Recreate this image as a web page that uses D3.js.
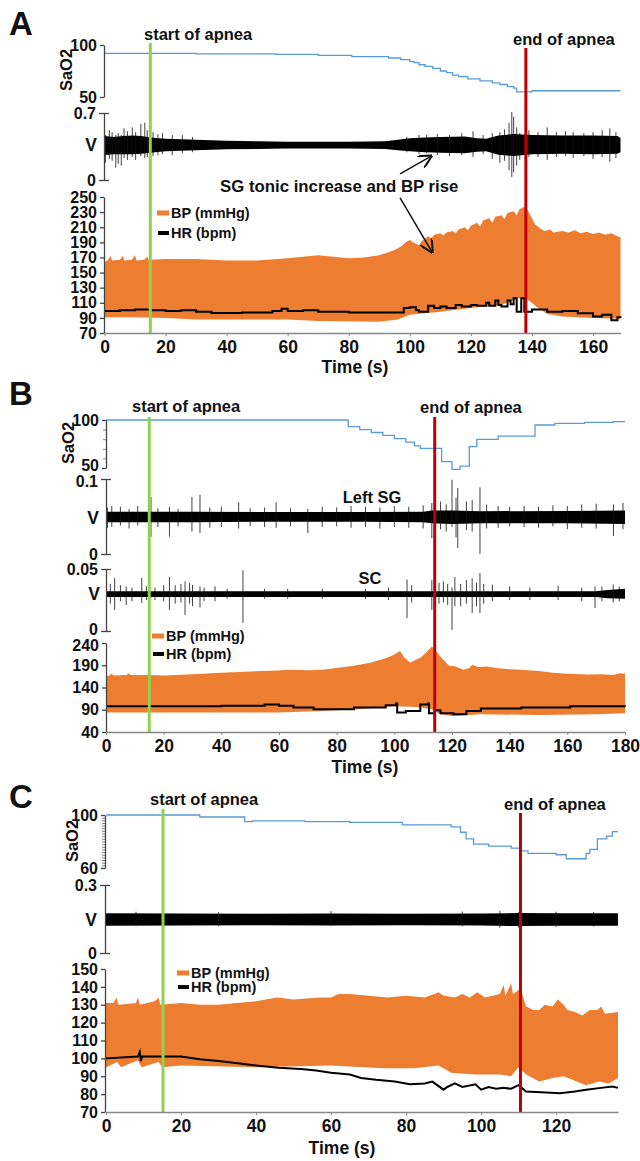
<!DOCTYPE html>
<html>
<head>
<meta charset="utf-8">
<script src="https://cdn.jsdelivr.net/npm/d3@7"></script>
<style>
  body { margin: 0; background: #fff; }
</style>
</head>
<body>
<div id="fig"></div>
<script>
// ---------- data ----------
// events: start / end of apnea (s)
const aEvents = [15, 138];
const bEvents = [15, 114];
const cEvents = [15.2, 110.5];

const aTicksX = [0, 20, 40, 60, 80, 100, 120, 140, 160];
const aTicksS = [50, 100];
const aTicksV = [0, 0.7];
const aTicksBP = [70, 90, 110, 130, 150, 170, 190, 210, 230, 250];

const bTicksX = [0, 20, 40, 60, 80, 100, 120, 140, 160, 180];
const bTicksS = [50, 100];
const bMinorS = [60, 70, 80, 90];
const bTicksV1 = [0, 0.1];
const bTicksV2 = [0, 0.05];
const bTicksBP = [40, 90, 140, 190, 240];

const cTicksX = [0, 20, 40, 60, 80, 100, 120];
const cTicksS = [60, 100];
const cMinorS = [62, 64, 66, 68, 70, 72, 74, 76, 78, 80, 82, 84, 86, 88, 90, 92, 94, 96, 98];
const cTicksV = [0, 0.3];
const cTicksBP = [70, 80, 90, 100, 110, 120, 130, 140, 150];

// SaO2 (%) step points [t, value]
const aSaO2 = [[0,92],[30,91.5],[56,91],[70,90],[81,88.8],[93,87.5],[97,86],[100,84],[101.5,83],[103,81],[105,79.5],[107.5,77.5],[110,75],[112,73.5],[114,71],[116,69.5],[119,67.5],[123,65.5],[127,63.5],[129.5,62],[132,60],[134,58.5],[135,55],[140,56],[169,56]];
const bSaO2 = [[0,100],[84,93],[88,90],[92,87],[96,84],[100,80.5],[104,77],[107,73],[109,70.5],[116.4,56.6],[120,48.6],[122.8,52],[126,72.2],[128.6,79.9],[136,83.3],[148.8,94.8],[155.7,96.5],[166,97.6],[176,98.3],[180,98.3]];
const cSaO2 = [[0,100],[25,98.5],[37,95],[39,95.5],[53,95],[65,94.5],[79,92.5],[92,91],[94.5,87],[96,82],[98,78],[102,76.5],[108,75],[110.5,73],[112.5,71],[120,70],[122.7,67],[128,71],[129,74],[131,82],[133.5,84],[135,87.5],[136.5,87.5]];

// nerve activity: dense body [t, hi, lo] (V) and single spikes [t, hi, lo]
const aVBody = [[0,0.46,0.26],[3,0.45,0.27],[6,0.46,0.27],[9,0.465,0.27],[12,0.46,0.275],[15,0.445,0.285],[20,0.43,0.30],[25,0.425,0.305],[30,0.42,0.31],[40,0.41,0.32],[50,0.405,0.325],[60,0.40,0.33],[80,0.40,0.33],[92,0.405,0.325],[96,0.42,0.31],[100,0.435,0.30],[105,0.445,0.29],[110,0.45,0.285],[118,0.455,0.28],[122,0.435,0.295],[125,0.43,0.30],[129,0.465,0.265],[134,0.48,0.25],[140,0.47,0.27],[150,0.465,0.275],[160,0.465,0.27],[168,0.46,0.275],[169,0.44,0.29]];
const aVSpikes = [[0.3,0.47,0.18],[1.6,0.52,0.22],[2.5,0.50,0.20],[3.7,0.47,0.13],[4.5,0.49,0.17],[5.5,0.47,0.15],[6.4,0.54,0.23],[7.5,0.51,0.21],[9.1,0.55,0.24],[10.2,0.50,0.21],[11.9,0.585,0.25],[13.2,0.60,0.23],[14,0.52,0.24],[15.9,0.50,0.25],[17.5,0.48,0.26],[19,0.49,0.27],[22.2,0.47,0.26],[25.5,0.47,0.28],[28.8,0.45,0.29],
  [99,0.45,0.29],[103,0.47,0.27],[105.5,0.47,0.28],[109,0.48,0.26],[113,0.47,0.25],[117,0.49,0.26],[120.7,0.51,0.24],[124,0.47,0.27],[127,0.49,0.22],[129.5,0.50,0.18],[131,0.53,0.20],[132.5,0.60,0.10],[133.4,0.71,0.03],[134,0.66,0.08],[135,0.55,0.15],[136,0.49,0.21],[139,0.52,0.24],[142,0.50,0.24],[145,0.55,0.21],[148,0.50,0.24],[151,0.51,0.25],[153.5,0.50,0.23],[157,0.49,0.25],[160,0.50,0.22],[163,0.52,0.24],[165.5,0.54,0.19],[167.5,0.50,0.23]];

const bV1Body = [[0,0.0565,0.0425],[30,0.0565,0.0425],[60,0.056,0.043],[90,0.056,0.043],[110,0.0565,0.0425],[113,0.058,0.041],[120,0.058,0.040],[130,0.057,0.041],[160,0.0575,0.041],[180,0.058,0.040]];
const bV1Spikes = [[0.5,0.062,0.035],[2,0.064,0.036],[5,0.063,0.038],[8,0.060,0.034],[11,0.064,0.038],[15.6,0.076,0.023],[18,0.061,0.036],[22,0.063,0.023],[25,0.060,0.037],[29.8,0.076,0.030],[32.6,0.079,0.028],[36,0.062,0.035],[40,0.063,0.036],[46,0.069,0.034],[50,0.061,0.037],[55,0.062,0.036],[59,0.069,0.035],[64,0.061,0.037],[70,0.060,0.028],[75,0.063,0.036],[80,0.062,0.037],[85,0.064,0.035],[90,0.063,0.036],[95,0.062,0.034],[100,0.064,0.036],[105,0.063,0.035],[110,0.065,0.034],[113,0.068,0.021],[116,0.070,0.033],[118,0.066,0.030],[120,0.099,0.036],[121.4,0.075,0.022],[122,0.088,0.008],[125,0.070,0.032],[127,0.072,0.030],[129.7,0.089,0.000],[132,0.066,0.034],[136,0.064,0.035],[140,0.063,0.037],[145,0.064,0.036],[150,0.063,0.035],[155,0.065,0.037],[160,0.064,0.033],[165,0.066,0.035],[170,0.067,0.034],[176,0.066,0.024],[179.3,0.068,0.033]];

const bV2Body = [[0,0.032,0.0275],[170,0.032,0.0275],[174,0.033,0.0265],[180,0.034,0.026]];
const bV2Spikes = [[1.5,0.038,0.022],[3,0.0427,0.017],[5,0.037,0.024],[7,0.036,0.021],[9,0.035,0.024],[12.4,0.0427,0.0226],[14,0.036,0.025],[17,0.035,0.025],[20,0.037,0.024],[22,0.0435,0.017],[24,0.037,0.022],[26,0.038,0.023],[27.4,0.040,0.013],[29,0.039,0.022],[30,0.037,0.020],[32.6,0.036,0.019],[34,0.035,0.024],[37.8,0.036,0.024],[42,0.034,0.026],[47.5,0.049,0.0065],[55,0.034,0.026],[63,0.034,0.026],[75,0.034,0.026],[90,0.034,0.026],[98,0.035,0.025],[104.4,0.0415,0.0105],[106,0.037,0.023],[113,0.041,0.017],[115.5,0.039,0.022],[117,0.040,0.023],[118.5,0.038,0.021],[120,0.035,0.001],[121,0.0435,0.020],[123,0.038,0.020],[125,0.041,0.022],[127,0.0425,0.0145],[128.5,0.039,0.020],[129.7,0.0468,0.0145],[131,0.038,0.022],[134,0.0375,0.024],[140,0.036,0.025],[147,0.035,0.025],[156.8,0.0365,0.025],[165,0.035,0.024],[169.6,0.036,0.0185],[172,0.036,0.024],[175.9,0.0375,0.023],[178,0.036,0.024]];

const cVBody = [[0,0.175,0.12],[20,0.174,0.121],[40,0.173,0.122],[60,0.174,0.121],[80,0.173,0.122],[100,0.174,0.121],[110,0.176,0.119],[120,0.175,0.12],[136.5,0.175,0.12]];
const cVSpikes = [[8,0.182,0.12],[30,0.18,0.118],[60,0.185,0.12],[95,0.183,0.118],[105,0.186,0.112],[110,0.18,0.112],[120,0.182,0.115],[130,0.181,0.117]];

// blood pressure envelope (mmHg): systolic top and diastolic bottom [t, value]
const aBPTop = [[0,164],[1,166],[2,172],[2.5,166],[5,167],[6,172],[6.5,166],[9,167],[10,173],[10.5,166],[13,167],[14,171],[14.5,167],[20,168],[30,168],[40,166],[50,166],[60,169],[65,171],[70,173],[75,171],[80,169],[85,170],[90,173],[93,177],[95,180],[97,184],[99,191],[100,193],[101,190],[103,186],[104,192],[106,198],[107,195],[108,200],[110,202],[111,199],[112,203],[114,205],[115,202],[116,207],[118,210],[119,206],[120,212],[122,216],[123,211],[124,219],[126,222],[127,216],[128,224],[130,226],[131,221],[132,229],[134,231],[135,226],[136,234],[137.5,237],[138.5,233],[139.5,226],[141,214],[142.5,209],[144,205],[146,207],[147,203],[150,205],[152,203],[154,206],[156,202],[158,204],[160,201],[162,203],[164,200],[166,202],[168,198],[169,197]];
const aBPBottom = [[0,91],[10,91],[20,90],[30,88],[50,88],[60,88],[70,86],[90,85],[96,88],[100,94],[110,98],[120,103],[130,107],[133,112],[135,116],[138,116],[140,110],[142,103],[145,95],[150,92],[160,90],[169,89]];
const bBPTop = [[0,165],[1.5,168],[2,172],[2.5,167],[7,168],[8,172],[8.5,168],[15,168],[20,167],[30,170],[40,173],[50,176],[60,178],[63,180],[70,179],[75,180],[80,184],[86,189],[92,196],[97.5,207],[100,214],[102,222],[103.5,207],[105.5,196],[109,207],[111,218],[113,232],[114,226],[116,209],[119,189],[121,188],[124,180],[126,184],[127,191],[129,186],[132,187],[136,183],[140,181],[144,180],[150,177],[155,173],[160,171],[167,169],[172,170],[176,168],[178,172],[180,171]];
const bBPBottom = [[0,84],[20,84],[40,84],[60,84],[75,87],[90,92],[100,98],[108,96],[113,91],[116,80],[120,76],[130,80],[150,78],[170,80],[180,82]];
const cBPTop = [[0,131],[2,131],[2.8,134],[3.3,130],[8,131],[8.5,134],[9,130],[13,132],[14,134],[14.5,130],[20,131],[25,130],[30,130],[35,131],[40,132],[45.6,134],[50,133],[57,134],[60,134],[62,136],[65,136],[70,135],[75,134],[80,135],[85,134],[88.7,137],[90,135],[93,134],[95,136],[97,134],[99,137],[101,134],[103,135],[105,136],[106,141],[106.5,135],[108,142],[108.5,136],[110.5,139],[112,129],[114,127],[115.5,127],[117,130],[119,129],[120.5,133],[122,130],[123,127],[125,126],[127,124],[129,127],[131,127],[132,129],[133,125],[136.5,126]];
const cBPBottom = [[0,95],[3,98],[4,95],[8.5,99],[9.5,95],[14,98],[15,95],[20,96],[40,95],[60,96],[74,94.5],[82,94.5],[88.7,96],[92,92],[98.5,91],[105,91],[108,90],[110,95],[112,91],[115.5,87],[119,89],[122,90],[128,85],[131.5,87],[134,86],[136.5,89]];

// heart rate (bpm)
const aHR = [[0,99],[5,100],[10,101],[15,100],[20,99],[25,100],[30,98],[35,96.5],[45,97],[55,99],[58,102],[60,99],[65,100],[70,98],[80,97],[95,97],[98,103],[100,104],[102,100],[103,98],[106,106],[108,103],[110,105],[112,103],[115,107],[117,105],[120,107],[122,106],[125,110],[126,106],[128,113],[129,107],[130,105],[132,113],[133,108],[134,116],[135,98],[136.5,116],[137.5,98],[140,101],[145,98],[150,99],[155,96],[160,92],[163,94],[166,87],[168,91],[169,90]];
const bHR = [[0,98],[20,98],[40,99],[55,102],[60,99],[65,95],[72,91],[76,91],[86,95],[97,100],[100.6,104],[101,84],[104,87],[109,102],[111.7,104],[112,82],[114,89],[116,82],[120.5,80],[125,87],[130,93],[144,95],[161,98],[178,98],[180,97]];
const cHR = [[0,100],[8.5,101],[9,103.5],[9.3,98.5],[9.6,101],[15,101],[20,101],[25,99.5],[30,98.5],[34,97.5],[40,96],[46,94.7],[52,94],[56,93.2],[60,92],[65,91],[68,89],[72,88],[77,87],[81,85.5],[85,86],[87,87],[90,82.5],[91,84],[93,86],[95,84],[98.5,85.5],[100,82.5],[102,84],[104,83],[106,83.5],[108,83],[110,85],[112,81.5],[116,81],[121,80.5],[125,81.5],[128,82.5],[132,83.5],[135,84.2],[136.5,83.5]];

// ---------- drawing ----------
const W = 640, H = 1161;
const FONT = '"Liberation Sans", Arial, Helvetica, sans-serif';
const ORANGE = "#ed7d31", BLUE = "#5b9bd5", GREEN = "#92d050", RED = "#c00000";

const svg = d3.select("#fig").append("svg").attr("width", W).attr("height", H);

function txt(g, x, y, s, size, anchor) {
    return g.append("text").attr("x", x).attr("y", y).text(s)
        .attr("font-family", FONT).attr("font-weight", "bold")
        .attr("font-size", size).attr("text-anchor", anchor || "start").attr("fill", "#111");
}

function stepLine(g, x, y, data, color, w, curve) {
    g.append("path").datum(data)
        .attr("d", d3.line().x(d => x(d[0])).y(d => y(d[1])).curve(curve || d3.curveStepAfter))
        .attr("fill", "none").attr("stroke", color).attr("stroke-width", w);
}

function band(g, x, y, top, bottom, color) {
    const pts = top.map(d => [x(d[0]), y(d[1])])
        .concat(bottom.slice().reverse().map(d => [x(d[0]), y(d[1])]));
    g.append("path").attr("d", d3.line()(pts) + "Z").attr("fill", color);
}

function trace(g, x, y, body, spikes) {
    g.append("path").datum(body)
        .attr("d", d3.area().x(d => x(d[0])).y0(d => y(d[2])).y1(d => y(d[1])))
        .attr("fill", "#000");
    g.selectAll(null).data(spikes).enter().append("line")
        .attr("x1", d => x(d[0])).attr("x2", d => x(d[0]))
        .attr("y1", d => y(d[1])).attr("y2", d => y(d[2]))
        .attr("stroke", "#111").attr("stroke-width", 0.8);
}

// nudge: {tickValue: px} shifts single tick labels so neighbouring axes don't collide
function yAxis(g, scale, ticks, x0, size, fmt, cross, nudge) {
    const ax = g.append("g").attr("transform", `translate(${x0},0)`)
        .call(d3.axisLeft(scale).tickValues(ticks).tickSize(size).tickSizeOuter(0).tickPadding(3)
            .tickFormat(fmt || (d => d)));
    ax.select(".domain").attr("stroke", "#444").attr("stroke-width", 1.3);
    ax.selectAll(".tick line").attr("stroke", "#444").attr("stroke-width", 1.3);
    if (cross) ax.selectAll(".tick line").attr("x2", cross).attr("x1", -cross);
    ax.selectAll(".tick text").attr("font-family", FONT).attr("font-weight", "bold")
        .attr("font-size", 16).attr("fill", "#111");
    if (nudge) ax.selectAll(".tick text").attr("transform", d => `translate(0,${nudge[d] || 0})`);
    return ax;
}

function minorTicks(g, scale, ticks, x0) {
    g.append("g").attr("transform", `translate(${x0},0)`)
        .call(d3.axisLeft(scale).tickValues(ticks).tickSize(3).tickSizeOuter(0).tickFormat(""))
        .call(a => a.select(".domain").remove())
        .selectAll(".tick line").attr("stroke", "#666").attr("stroke-width", 0.8);
}

function xAxis(g, scale, ticks, y0) {
    const ax = g.append("g").attr("transform", `translate(0,${y0})`)
        .call(d3.axisBottom(scale).tickValues(ticks).tickSize(3).tickSizeOuter(0).tickPadding(5));
    ax.select(".domain").attr("stroke", "#888").attr("stroke-width", 1.5);
    ax.selectAll(".tick line").attr("stroke", "#888");
    ax.selectAll(".tick text").attr("font-family", FONT).attr("font-weight", "bold")
        .attr("font-size", 17.5).attr("fill", "#111");
}

function eventLine(g, x, t, y0, y1, color) {
    g.append("line").attr("x1", x(t)).attr("x2", x(t)).attr("y1", y0).attr("y2", y1)
        .attr("stroke", color).attr("stroke-width", 3);
}

function legend(g, x0, y0, gap) {
    g.append("rect").attr("x", x0).attr("y", y0 - 2.5).attr("width", 12).attr("height", 5).attr("fill", ORANGE);
    txt(g, x0 + 14, y0 + 5, "BP (mmHg)", 14.5);
    g.append("rect").attr("x", x0 + 1).attr("y", y0 + gap - 2).attr("width", 11).attr("height", 4).attr("fill", "#000");
    txt(g, x0 + 14, y0 + gap + 5, "HR (bpm)", 14.5);
}

function rotLabel(g, x, y, s) {
    txt(g, 0, 0, s, 16.5, "middle").attr("transform", `translate(${x},${y}) rotate(-90)`);
}

const vFmt = d => d === 0 ? "0" : String(d);

// ----- panel A -----
const gA = svg.append("g");
const xA = d3.scaleLinear().domain([0, 169]).range([104.5, 620.5]);
const sA = d3.scaleLinear().domain([50, 100]).range([97, 45]);
const vA = d3.scaleLinear().domain([0, 0.7]).range([180, 113]);
const bA = d3.scaleLinear().domain([70, 250]).range([333, 197]);

stepLine(gA, xA, sA, aSaO2, BLUE, 1.3);
trace(gA, xA, vA, aVBody, aVSpikes);
band(gA, xA, bA, aBPTop, aBPBottom, ORANGE);
stepLine(gA, xA, bA, aHR, "#000", 2);
eventLine(gA, xA, aEvents[0], 43, 333, GREEN);
eventLine(gA, xA, aEvents[1], 48, 333, RED);
yAxis(gA, sA, aTicksS, 104, 4);
yAxis(gA, vA, aTicksV, 104, 5, vFmt, 5);
yAxis(gA, bA, aTicksBP, 104, 4);
xAxis(gA, xA, aTicksX, 333);
legend(gA, 157, 213, 20);
txt(gA, 9, 35, "A", 33);
txt(gA, 144, 40, "start of apnea", 16.5);
txt(gA, 513, 45, "end of apnea", 16.5);
txt(gA, 220, 192, "SG tonic increase and BP rise", 16.8);
txt(gA, 355, 373, "Time (s)", 17.5, "middle");
txt(gA, 97, 151, "V", 17.5, "end");
rotLabel(gA, 72, 70, "SaO2");

// annotation arrows
svg.append("defs").append("marker").attr("id", "arr")
    .attr("viewBox", "0 0 10 10").attr("refX", 9).attr("refY", 5)
    .attr("markerWidth", 9).attr("markerHeight", 9).attr("orient", "auto")
    .append("path").attr("d", "M0,0 L10,5 L0,10").attr("fill", "none").attr("stroke", "#111").attr("stroke-width", 1.5);
gA.append("line").attr("x1", xA(96.8)).attr("y1", vA(0.063)).attr("x2", xA(107)).attr("y2", vA(0.25))
    .attr("stroke", "#111").attr("stroke-width", 1.5).attr("marker-end", "url(#arr)");
gA.append("line").attr("x1", xA(96.8)).attr("y1", bA(248.7)).attr("x2", xA(107.3)).attr("y2", bA(177))
    .attr("stroke", "#111").attr("stroke-width", 1.5).attr("marker-end", "url(#arr)");

// ----- panel B -----
const gB = svg.append("g");
const xB = d3.scaleLinear().domain([0, 180]).range([106, 625]);
const sB = d3.scaleLinear().domain([50, 100]).range([468, 420]);
const v1B = d3.scaleLinear().domain([0, 0.1]).range([554, 479]);
const v2B = d3.scaleLinear().domain([0, 0.05]).range([631, 569]);
const bB = d3.scaleLinear().domain([40, 240]).range([732, 643]);

stepLine(gB, xB, sB, bSaO2, BLUE, 1.3);
trace(gB, xB, v1B, bV1Body, bV1Spikes);
trace(gB, xB, v2B, bV2Body, bV2Spikes);
band(gB, xB, bB, bBPTop, bBPBottom, ORANGE);
stepLine(gB, xB, bB, bHR, "#000", 2);
eventLine(gB, xB, bEvents[0], 417, 732, GREEN);
eventLine(gB, xB, bEvents[1], 417, 732, RED);
minorTicks(gB, sB, bMinorS, 106);
yAxis(gB, sB, bTicksS, 106, 4, null, 0, {50: -2.5});
yAxis(gB, v1B, bTicksV1, 106, 5, vFmt, 5, {0.1: 2});
yAxis(gB, v2B, bTicksV2, 106, 5, vFmt, 5, {0: -2});
yAxis(gB, bB, bTicksBP, 106, 4, null, 0, {240: 2});
xAxis(gB, xB, bTicksX, 732);
legend(gB, 152, 636, 18);
txt(gB, 9, 405, "B", 33);
txt(gB, 132, 412, "start of apnea", 16.5);
txt(gB, 420, 413, "end of apnea", 16.5);
txt(gB, 372, 503, "Left SG", 16.5, "middle");
txt(gB, 370, 584, "SC", 16.5, "middle");
txt(gB, 365, 773, "Time (s)", 17.5, "middle");
txt(gB, 99, 524, "V", 17.5, "end");
txt(gB, 100, 600, "V", 17.5, "end");
rotLabel(gB, 74, 443, "SaO2");

// ----- panel C -----
const gC = svg.append("g");
const xC = d3.scaleLinear().domain([0, 136.5]).range([106, 618]);
const sC = d3.scaleLinear().domain([60, 100]).range([868, 815]);
const vC = d3.scaleLinear().domain([0, 0.3]).range([953, 885]);
const bC = d3.scaleLinear().domain([70, 150]).range([1112, 969]);

stepLine(gC, xC, sC, cSaO2, BLUE, 1.3);
trace(gC, xC, vC, cVBody, cVSpikes);
band(gC, xC, bC, cBPTop, cBPBottom, ORANGE);
stepLine(gC, xC, bC, cHR, "#000", 2, d3.curveLinear);
eventLine(gC, xC, cEvents[0], 809, 1112, GREEN);
eventLine(gC, xC, cEvents[1], 813, 1112, RED);
minorTicks(gC, sC, cMinorS, 105);
yAxis(gC, sC, cTicksS, 105, 4);
yAxis(gC, vC, cTicksV, 105, 5, vFmt, 5);
yAxis(gC, bC, cTicksBP, 105, 4);
xAxis(gC, xC, cTicksX, 1112);
legend(gC, 177, 973, 14);
txt(gC, 9, 808, "C", 33);
txt(gC, 150, 805, "start of apnea", 16.5);
txt(gC, 504, 810, "end of apnea", 16.5);
txt(gC, 342, 1154, "Time (s)", 17.5, "middle");
txt(gC, 97, 926, "V", 17.5, "end");
rotLabel(gC, 78, 841, "SaO2");
</script>
</body>
</html>
